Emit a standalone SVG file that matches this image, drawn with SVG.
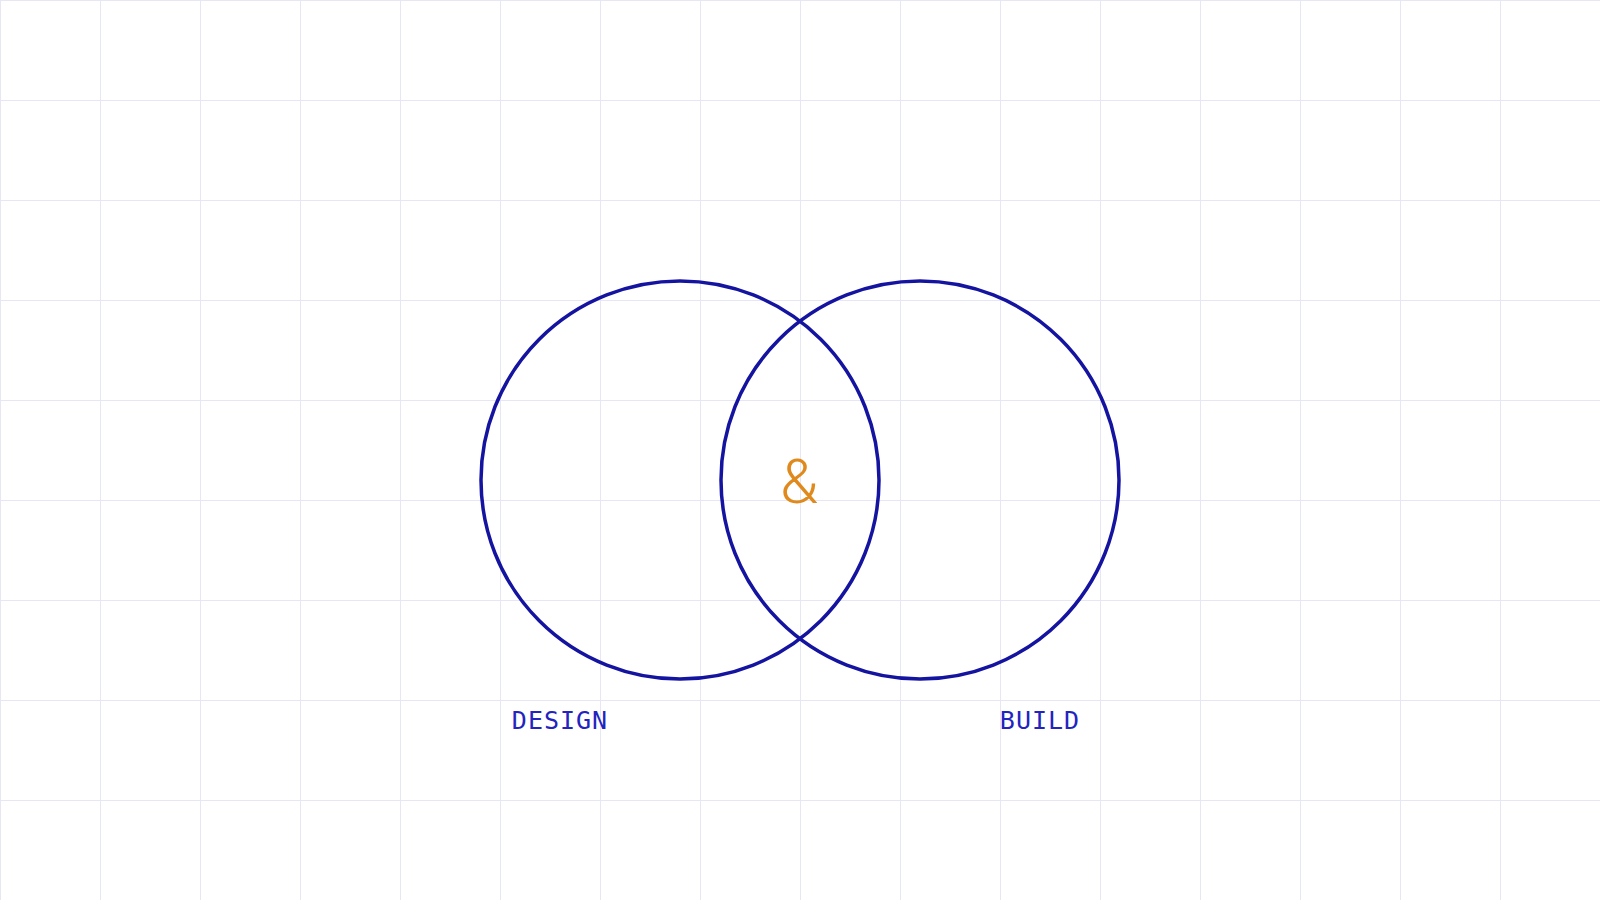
<svg xmlns="http://www.w3.org/2000/svg" width="1600" height="900" viewBox="0 0 1600 900">
<defs>
<pattern id="grid" width="100" height="100" patternUnits="userSpaceOnUse">
<path d="M0 0H100M0 0V100" fill="none" stroke="#e6e6f4" stroke-width="2"/>
</pattern>
<style>
.ring{fill:none;stroke:#1414a0;stroke-width:3.5}
.label{font-family:"DejaVu Sans Mono","Liberation Mono",monospace;font-size:25px;fill:#2323c0;letter-spacing:1px}
.amp{font-family:Roboto,"Noto Sans",sans-serif;font-weight:300;font-size:62px;fill:#e08a1e}
</style>
</defs>
<rect width="1600" height="900" fill="#ffffff"/>
<rect width="1600" height="900" fill="url(#grid)"/>
<g id="design">
<circle class="ring" cx="680" cy="480" r="199"/>
<text class="label" x="560" y="729" text-anchor="middle">DESIGN</text>
</g>
<g id="build">
<circle class="ring" cx="920" cy="480" r="199"/>
<text class="label" x="1040" y="729" text-anchor="middle">BUILD</text>
</g>
<g id="and">
<text class="amp" x="799" y="503" text-anchor="middle">&amp;</text>
</g>
<g id="connectors"/>
</svg>
